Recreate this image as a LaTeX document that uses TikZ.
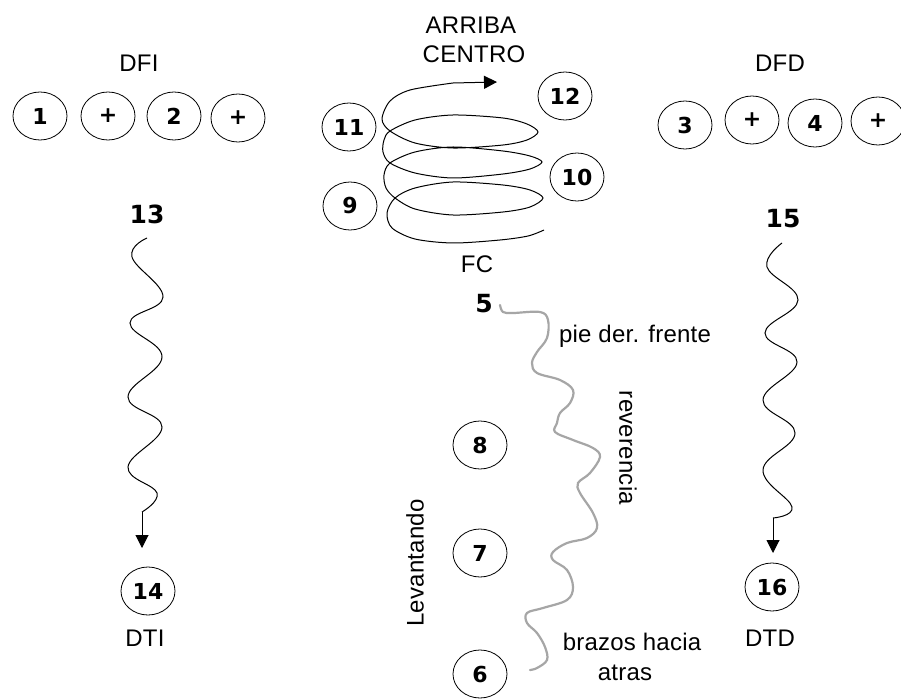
\documentclass[tikz,border=0pt]{standalone}
\usepackage{fontspec}
\setmainfont{Liberation Sans}[LetterSpace=1]
\newfontfamily\numfont{DejaVu Sans}
\usetikzlibrary{shapes.geometric,arrows.meta}
\begin{document}
\begin{tikzpicture}[x=1pt,y=-1pt,
  circ/.style={ellipse,draw,line width=0.8pt,minimum width=54pt,minimum height=48pt,inner sep=0pt,
    font=\numfont\bfseries\fontsize{22}{26}\selectfont},
  lbl/.style={font=\fontsize{24}{28}\selectfont,inner sep=0pt},
  bignum/.style={font=\numfont\bfseries\fontsize{25}{30}\selectfont,inner sep=0pt},
  wave/.style={line width=1pt},
  tipline/.style={line width=1pt,-{Triangle[length=13pt,width=13pt]}}]
\fill[white] (0,0) rectangle (901,700);
\useasboundingbox (0,0) rectangle (901,700);

% left group
\node[lbl] (dfi) at (139,63) {DFI};
\node[circ] (c1) at (40,116) {1};
\node[circ] (p1) at (108,116) {+};
\node[circ] (c2) at (174,116) {2};
\node[circ] (p2) at (238,118) {+};

% right group
\node[lbl] (dfd) at (780,63) {DFD};
\node[circ] (c3) at (685,125) {3};
\node[circ] (p3) at (752,120) {+};
\node[circ] (c4) at (815,123) {4};
\node[circ] (p4) at (878,121) {+};

% centre top
\node[lbl] (arriba) at (471,25) {ARRIBA};
\node[lbl] (centro) at (474,54) {CENTRO};
\node[circ] (c12) at (565,96) {12};
\node[circ] (c11) at (349,127) {11};
\node[circ] (c10) at (577,177) {10};
\node[circ] (c9) at (350,206) {9};
\node[lbl] (fc) at (477,264) {FC};

% coil
\coordinate (coilend) at (453,83);
\coordinate (coiltip) at (497,82);
\draw[wave] plot[smooth,tension=0.5] coordinates {
 (544,230) (528,236) (500,240) (453,243) (415,239) (392,228) (387,213) (395,198)
 (415,188) (453,182) (503,185) (530,190) (543,198) (530,207) (503,212) (453,215) (415,209) (395,198)
 (386,188) (384,175) (390,163)
 (415,152) (453,147) (503,151) (530,156) (542,162) (530,169) (503,174) (453,178) (415,173) (390,163)
 (383,152) (384,140) (390,131)
 (415,120) (453,115) (503,118) (527,124) (538,132) (527,140) (503,145) (453,148) (415,143) (390,131)
 (382,119) (390,101) (410,90) (453,83)};
\draw[tipline] (coilend) -- (coiltip);

% left wave 13 -> 14
\node[bignum] (n13) at (147,214) {13};
\node[circ] (c14) at (148,591) {14};
\node[lbl] (dti) at (145,638) {DTI};
\coordinate (w13e) at (142,512);
\coordinate (w13t) at (142,548);
\draw[wave] plot[smooth,tension=0.7] coordinates {
 (147,238) (132,257) (163,297) (130,323) (162,357) (128,397) (162,427) (128,467) (157,493) (142,512)};
\draw[tipline] (w13e) -- (w13t);

% right wave 15 -> 16
\node[bignum] (n15) at (783,219) {15};
\node[circ] (c16) at (772,587) {16};
\node[lbl] (dtd) at (770,638) {DTD};
\coordinate (w15e) at (773,518);
\coordinate (w15t) at (773,553);
\draw[wave] plot[smooth,tension=0.7] coordinates {
 (782,243) (767,267) (798,300) (765,333) (797,362) (763,400) (795,433) (763,470) (792,507) (773,518)};
\draw[tipline] (w15e) -- (w15t);

% middle
\node[bignum] (n5) at (484,304) {5};
\node[circ] (c8) at (480,445) {8};
\node[circ] (c7) at (480,553) {7};
\node[circ] (c6) at (480,674) {6};
\node[lbl] (pie) at (635,336) {pie der. frente};
\node[lbl,rotate=-90] (rev) at (628,448) {reverencia};
\node[lbl,rotate=90] (lev) at (415,563) {Levantando};
\node[lbl] (brazos) at (632,642) {brazos hacia};
\node[lbl] (atras) at (625,673) {atras};
\draw[gray!70,line width=2.2pt,line cap=round] plot[smooth,tension=0.6] coordinates {
 (500,305) (503,312) (513,313) (540,312) (548,320) (547,338) (537,352) (532,363)
 (537,373) (560,380) (573,390) (570,403) (560,413) (557,423) (555,432) (573,440)
 (593,448) (600,457) (590,473) (578,483) (580,493) (593,513) (597,528) (587,538)
 (567,543) (553,552) (553,560) (567,570) (573,587) (567,600) (543,608) (527,613)
 (527,623) (537,633) (545,647) (547,660) (537,668) (530,670)};
\end{tikzpicture}
\end{document}
